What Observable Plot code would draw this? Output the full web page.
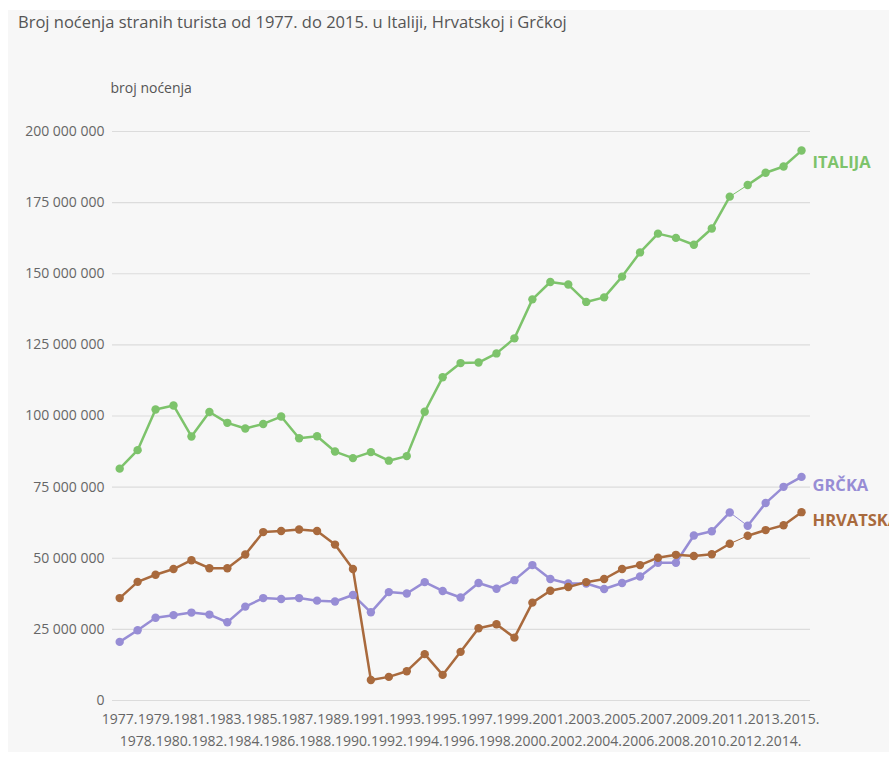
<!DOCTYPE html>
<html>
<head>
<meta charset="utf-8">
<script src="https://cdn.jsdelivr.net/npm/d3@7"></script>
<script src="https://cdn.jsdelivr.net/npm/@observablehq/plot@0.6"></script>
<style>
  body { margin: 0; background: #fff; font-family: "Open Sans", sans-serif; }
  #wrap { position: absolute; left: 8px; top: 10px; width: 881px; height: 742px; background: #f7f7f7; overflow: hidden; }
  #title { height: 48px; line-height: 24px; padding-left: 10px; font-size: 16.5px; color: #555; white-space: nowrap; }
</style>
</head>
<body>
<div id="wrap">
  <div id="title">Broj noćenja stranih turista od 1977. do 2015. u Italiji, Hrvatskoj i Grčkoj</div>
  <div id="chart"></div>
</div>
<script>
const years = d3.range(1977, 2016);
const italija = [81.5, 88.0, 102.3, 103.7, 92.8, 101.4, 97.6, 95.6, 97.2, 99.8,
  92.2, 92.9, 87.5, 85.2, 87.3, 84.3, 85.9, 101.5, 113.6, 118.6,
  118.8, 122.0, 127.3, 141.0, 147.1, 146.2, 140.1, 141.7, 149.0, 157.5,
  164.1, 162.6, 160.2, 165.9, 177.1, 181.2, 185.5, 187.7, 193.3];
const hrvatska = [36.0, 41.7, 44.2, 46.2, 49.3, 46.5, 46.5, 51.3, 59.2, 59.6,
  60.1, 59.6, 54.8, 46.2, 7.2, 8.3, 10.3, 16.3, 9.0, 17.1,
  25.4, 26.8, 22.1, 34.4, 38.6, 39.9, 41.6, 42.7, 46.2, 47.6,
  50.2, 51.2, 50.8, 51.4, 55.1, 57.9, 59.9, 61.6, 66.2];
const grcka = [20.6, 24.7, 29.1, 30.0, 30.9, 30.2, 27.5, 33.0, 36.0, 35.7,
  36.0, 35.1, 34.8, 37.1, 31.0, 38.1, 37.6, 41.6, 38.5, 36.2,
  41.3, 39.3, 42.3, 47.6, 42.7, 41.1, 41.1, 39.2, 41.3, 43.6,
  48.4, 48.4, 58.0, 59.5, 66.1, 61.4, 69.4, 75.1, 78.6];
const seriesNames = ["ITALIJA", "GRČKA", "HRVATSKA"];
const seriesColors = ["#7dc36b", "#978dd5", "#a96a3d"];
const yTicks = d3.range(0, 200000001, 25000000);
const oddYears = years.filter(y => y % 2 === 1);
const evenYears = years.filter(y => y % 2 === 0);

const valuesBySeries = {"ITALIJA": italija, "GRČKA": grcka, "HRVATSKA": hrvatska};
const data = [];
for (const s of seriesNames) {
  valuesBySeries[s].forEach((v, i) => data.push({series: s, year: years[i], value: v * 1e6}));
}
// segment 2011-2012 drawn thin in the original
const mainData = data.map(d => ({...d, part: d.series + (d.year <= 2011 ? "a" : "b")}));
const thinData = data.filter(d => d.year === 2011 || d.year === 2012);
const lastPoints = data.filter(d => d.year === 2015);
const labelDy = {"ITALIJA": 12, "GRČKA": 9, "HRVATSKA": 9};

const loc = d3.formatLocale({thousands: " ", grouping: [3], decimal: ",", currency: ["", ""]});
const fmt = loc.format(",");

const chart = Plot.plot({
  width: 881,
  height: 694,
  marginLeft: 104,
  marginRight: 79,
  marginTop: 73,
  marginBottom: 52,
  style: {background: "transparent", fontFamily: "Open Sans, sans-serif", color: "#555"},
  x: {type: "linear", domain: [1976.6, 2015.5], axis: null},
  y: {domain: [0, 200000000], axis: null},
  color: {domain: seriesNames, range: seriesColors},
  marks: [
    Plot.ruleY(yTicks, {stroke: "#dcdcdc", strokeWidth: 1.2}),
    Plot.axisY(yTicks, {tickSize: 0, tickPadding: 8, tickFormat: fmt, fontSize: 14, fill: "#666", label: null}),
    Plot.text(["broj noćenja"], {frameAnchor: "top-left", dx: -2, dy: -43, textAnchor: "start", lineAnchor: "middle", fontSize: 14, fill: "#555"}),
    Plot.text(oddYears, {x: d => d, text: d => d + ".", frameAnchor: "bottom", dy: 19, lineAnchor: "middle", fontSize: 14, fill: "#666"}),
    Plot.text(evenYears, {x: d => d, text: d => d + ".", frameAnchor: "bottom", dy: 41, lineAnchor: "middle", fontSize: 14, fill: "#666"}),
    Plot.line(thinData, {x: "year", y: "value", z: "series", stroke: "series", strokeWidth: 1}),
    Plot.line(mainData, {x: "year", y: "value", z: "part", stroke: "series", strokeWidth: 2.5}),
    Plot.dot(data, {x: "year", y: "value", fill: "series", r: 4.2}),
    ...seriesNames.map(s => Plot.text(lastPoints.filter(d => d.series === s), {
      x: "year", y: "value", text: "series", fill: "series", dx: 11, dy: labelDy[s],
      textAnchor: "start", lineAnchor: "middle", fontSize: 16.5, fontWeight: "bold"
    }))
  ]
});
document.getElementById("chart").appendChild(chart);
</script>
</body>
</html>
